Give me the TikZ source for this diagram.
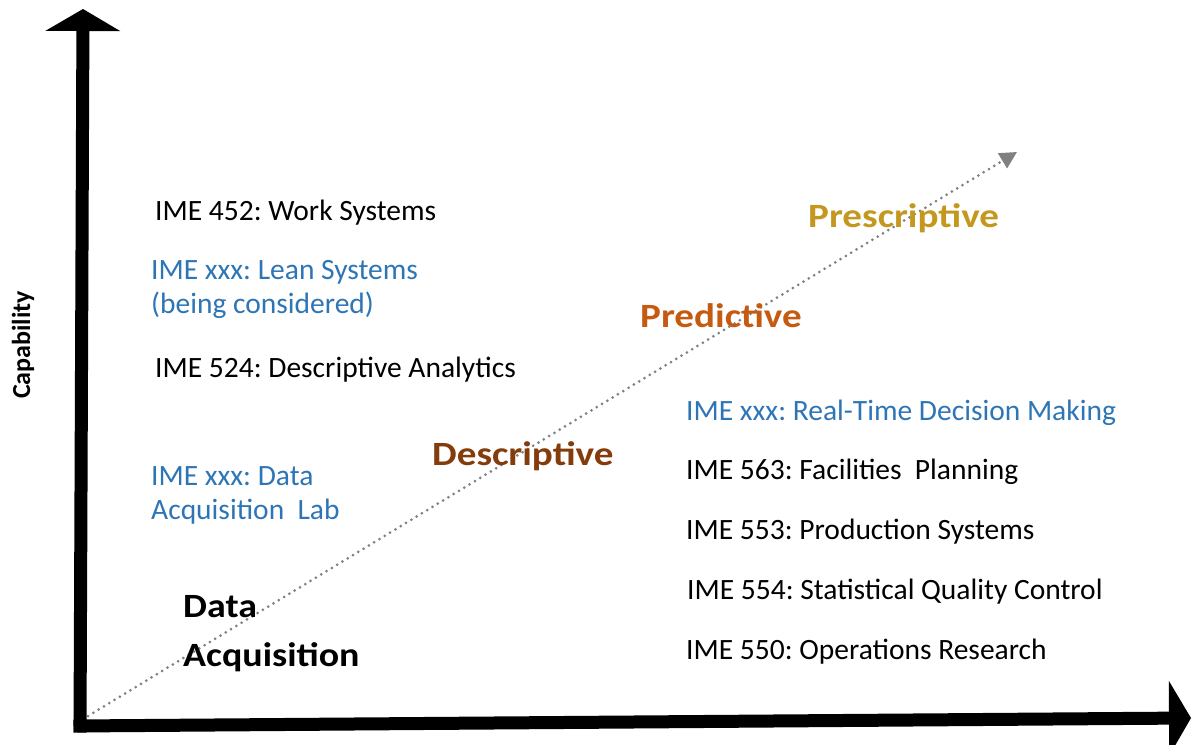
\documentclass[tikz,border=0pt]{standalone}
\usepackage{fontspec}
\setmainfont{Carlito}
\usetikzlibrary{arrows.meta}
\definecolor{imeblue}{RGB}{46,117,182}
\definecolor{presc}{RGB}{196,152,30}
\definecolor{pred}{RGB}{197,90,17}
\definecolor{desc}{RGB}{132,60,12}
\definecolor{dotgray}{RGB}{128,128,128}
\tikzset{
  course/.style={anchor=base west, inner sep=0pt, font=\fontsize{29.5}{35}\selectfont, text=black},
  coursenew/.style={course, text=imeblue},
  stage/.style={anchor=base west, inner sep=0pt, xscale=1.15, font=\bfseries\fontsize{34}{40}\selectfont},
  axis/.style={line width=13pt, -{Triangle[length=22pt,width=74pt]}},
  trend/.style={dotgray, line width=3pt, line cap=round, dash pattern=on 0pt off 6.2pt,
    -{Triangle[length=17pt,width=17pt,line cap=butt]}},
}
\begin{document}
\frenchspacing
\begin{tikzpicture}[x=1pt,y=-1pt]
\useasboundingbox (0,0) rectangle (1193,744);
% axes
\coordinate (origin) at (80,726);
\coordinate (ytip) at (83,9);
\coordinate (xtip) at (1191,718);
\coordinate (ystart) at (80,732.5);
\coordinate (xstart) at (73.5,726);
\draw[axis] (ystart) -- (ytip);
\draw[axis] (xstart) -- (xtip);
% trend
\coordinate (tstart) at (88,716);
\coordinate (tend) at (1017,152);
\draw[trend] (tstart) -- (tend);
% axis label
\node[rotate=90, inner sep=0pt, font=\bfseries\fontsize{26}{30}\selectfont] (cap) at (23,345) {Capability};
% stages
\node[stage, text=presc] (prescriptive) at (808,227) {Prescriptive};
\node[stage, text=pred] (predictive) at (640,327) {Predictive};
\node[stage, text=desc] (descriptive) at (432,465) {Descriptive};
\node[stage, xscale=0.97] (data) at (183,617) {Data};
\node[stage, xscale=0.97] (acq) at (183,666) {Acquisition};
% left courses
\node[course] (c452) at (155,220) {IME 452: Work Systems};
\node[coursenew] (lean1) at (151,279) {IME xxx: Lean Systems};
\node[coursenew] (lean2) at (151,313) {(being considered)};
\node[course] (c524) at (155,377) {IME 524: Descriptive Analytics};
\node[coursenew] (daq1) at (151,485) {IME xxx: Data};
\node[coursenew] (daq2) at (151,519) {Acquisition\ \ Lab};
% right courses
\node[coursenew] (rtdm) at (686,420) {IME xxx: Real-Time Decision Making};
\node[course] (c563) at (686,479) {IME 563: Facilities\ \ Planning};
\node[course] (c553) at (686,539) {IME 553: Production Systems};
\node[course] (c554) at (687,599) {IME 554: Statistical Quality Control};
\node[course] (c550) at (686,659) {IME 550: Operations Research};
\end{tikzpicture}
\end{document}
